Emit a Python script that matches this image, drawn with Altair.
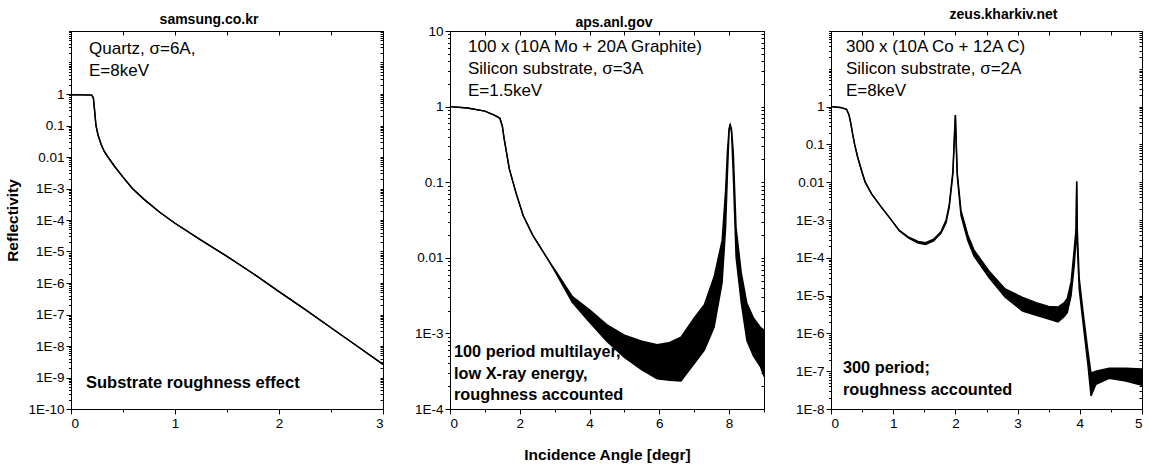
import altair as alt
import pandas as pd

FONT = "Liberation Sans"

# ---------------- data ----------------
# Panel 1: samsung.co.kr  (Quartz, sigma=6A, 8 keV)
P1_ANGLE = [0.0, 0.10, 0.20, 0.215, 0.225, 0.24, 0.26, 0.29, 0.32, 0.355, 0.42, 0.50,
            0.59, 0.70, 0.85, 1.00, 1.25, 1.50, 1.75, 2.00, 2.25, 2.50, 2.75, 3.00]
P1_REFL = [0.95, 0.94, 0.92, 0.75, 0.35, 0.1, 0.05, 0.025, 0.015, 0.01, 5e-3, 2.3e-3,
           1.0e-3, 4.6e-4, 1.8e-4, 7.9e-5, 2.3e-5, 7e-6, 2e-6, 5.3e-7, 1.45e-7, 3.8e-8, 1.0e-8, 2.6e-9]

# Panel 2: aps.anl.gov  (100 x (10A Mo + 20A Graphite), 1.5 keV) - envelope of the fringes
P2_ANGLE = [0.0, 0.5, 1.0, 1.3, 1.43, 1.5, 1.55, 1.6, 1.7, 1.9, 2.1, 2.37, 2.6, 2.86,
            3.0, 3.5, 4.0, 4.5, 5.0, 5.5, 5.94, 6.3, 6.62, 7.0, 7.29, 7.57, 7.8, 7.9, 7.95,
            8.0, 8.03, 8.07, 8.12, 8.2, 8.35, 8.51, 8.7, 8.9, 9.0]
P2_UPPER = [1.0, 0.96, 0.87, 0.76, 0.70, 0.55, 0.38, 0.28, 0.15, 0.07, 0.036, 0.02, 0.0135, 8.7e-3,
            7e-3, 3.1e-3, 2.05e-3, 1.3e-3, 9.5e-4, 7.9e-4, 7.1e-4, 7.6e-4, 8.9e-4, 1.6e-3, 2.4e-3,
            5.6e-3, 0.017, 0.08, 0.25, 0.52, 0.58, 0.5, 0.25, 0.025, 6.3e-3, 2.5e-3, 1.6e-3, 1.2e-3, 1.1e-3]
P2_LOWER = [1.0, 0.96, 0.87, 0.76, 0.70, 0.55, 0.38, 0.28, 0.15, 0.07, 0.036, 0.02, 0.0135, 8.7e-3,
            6.7e-3, 2.6e-3, 1.4e-3, 7.8e-4, 4.8e-4, 3.3e-4, 2.5e-4, 2.4e-4, 2.35e-4, 4e-4, 6e-4,
            1.2e-3, 4.7e-3, 0.025, 0.12, 0.48, 0.58, 0.45, 0.12, 0.01, 2.5e-3, 8e-4, 5e-4, 3.6e-4, 2.7e-4]

# Panel 3: zeus.kharkiv.net  (300 x (10A Co + 12A C), 8 keV) - envelope of the fringes
P3_ANGLE = [0.0, 0.15, 0.25, 0.29, 0.32, 0.35, 0.38, 0.43, 0.5, 0.55,
            0.65, 0.8, 0.95, 1.1, 1.25, 1.4, 1.52, 1.65, 1.77, 1.85,
            1.9, 1.96, 1.985, 2.0, 2.01, 2.03, 2.09, 2.2, 2.3, 2.54,
            2.8, 3.08, 3.3, 3.5, 3.65, 3.75, 3.8, 3.86, 3.91, 3.94,
            3.95, 3.96, 3.99, 4.05, 4.13, 4.18, 4.26, 4.47, 4.74, 5.0]
P3_UPPER = [1.0, 0.95, 0.85, 0.6, 0.35, 0.18, 0.1, 0.045, 0.018, 0.01,
            5e-3, 2.3e-3, 1.1e-3, 5.3e-4, 3.5e-4, 2.7e-4, 2.5e-4, 3.1e-4, 5e-4, 1.0e-3,
            2.5e-3, 0.02, 0.2, 0.6, 0.2, 0.018, 1.8e-3, 4e-4, 1.6e-4, 4.5e-5,
            1.5e-5, 9e-6, 6.5e-6, 5.2e-6, 5e-6, 6.5e-6, 8.5e-6, 2.3e-5, 1.7e-4, 6e-4,
            0.0105, 6e-4, 3e-5, 4e-6, 3.5e-7, 9e-8, 1.0e-7, 1.2e-7, 1.2e-7, 1.15e-7]
P3_LOWER = [1.0, 0.95, 0.85, 0.6, 0.35, 0.18, 0.1, 0.045, 0.018, 0.01,
            5e-3, 2.3e-3, 1.1e-3, 5.1e-4, 3.3e-4, 2.45e-4, 2.25e-4, 2.8e-4, 4.5e-4, 8.5e-4,
            2.1e-3, 0.016, 0.15, 0.6, 0.12, 0.014, 1.3e-3, 2.8e-4, 1.1e-4, 3e-5,
            9e-6, 3.9e-6, 3e-6, 2.4e-6, 2e-6, 2.8e-6, 3.6e-6, 1e-5, 6e-5, 3e-4,
            0.0105, 2e-4, 1.5e-5, 2e-6, 1.5e-7, 2.2e-8, 4.5e-8, 6.5e-8, 5.5e-8, 4.2e-8]

# tick values and labels
P1_Y_TICKS = [1e-10, 1e-9, 1e-8, 1e-7, 1e-6, 1e-5, 1e-4, 1e-3, 0.01, 0.1, 1.0]
P1_Y_LABELS = ["1E-10", "1E-9", "1E-8", "1E-7", "1E-6", "1E-5", "1E-4", "1E-3", "0.01", "0.1", "1"]
P1_X_TICKS = [0, 1, 2, 3]
P1_X_LABELS = ["0", "1", "2", "3"]

P2_Y_TICKS = [1e-4, 1e-3, 0.01, 0.1, 1.0, 10.0]
P2_Y_LABELS = ["1E-4", "1E-3", "0.01", "0.1", "1", "10"]
P2_X_TICKS = [0, 2, 4, 6, 8]
P2_X_LABELS = ["0", "2", "4", "6", "8"]

P3_Y_TICKS = [1e-8, 1e-7, 1e-6, 1e-5, 1e-4, 1e-3, 0.01, 0.1, 1.0]
P3_Y_LABELS = ["1E-8", "1E-7", "1E-6", "1E-5", "1E-4", "1E-3", "0.01", "0.1", "1"]
P3_X_TICKS = [0, 1, 2, 3, 4, 5]
P3_X_LABELS = ["0", "1", "2", "3", "4", "5"]

TITLES = ["samsung.co.kr", "aps.anl.gov", "zeus.kharkiv.net"]
Y_TITLE = "Reflectivity"
X_TITLE = "Incidence Angle [degr]"

P1_NOTE_TOP = ["Quartz, σ=6A,", "E=8keV"]
P1_NOTE_BOTTOM = ["Substrate roughness effect"]
P2_NOTE_TOP = ["100 x (10A Mo + 20A Graphite)", "Silicon substrate, σ=3A", "E=1.5keV"]
P2_NOTE_BOTTOM = ["100 period multilayer,", "low X-ray energy,", "roughness accounted"]
P3_NOTE_TOP = ["300 x (10A Co + 12A C)", "Silicon substrate, σ=2A", "E=8keV"]
P3_NOTE_BOTTOM = ["300 period;", "roughness accounted"]

PLOT_H = 378


def label_expr(vals, labels):
    parts = [f"abs(datum.value - {v!r}) <= {abs(v) * 1e-6 + 1e-12!r} ? '{l}'" for v, l in zip(vals, labels)]
    return " : ".join(parts) + " : ''"


def log_ticks(lo_exp, hi_exp):
    return [m * 10.0 ** e for e in range(lo_exp, hi_exp) for m in range(1, 10)] + [10.0 ** hi_exp]


def lin_ticks(lo, hi, step):
    n = int(round((hi - lo) / step))
    return [round(lo + i * step, 6) for i in range(n + 1)]


def text_block(lines, x0, y0, dy, size, weight):
    layers = []
    for i, t in enumerate(lines):
        layers.append(
            alt.Chart(alt.Data(values=[{}]))
            .mark_text(align="left", baseline="middle", font=FONT, fontSize=size,
                       fontWeight=weight, color="black")
            .encode(x=alt.value(x0), y=alt.value(y0 + i * dy), text=alt.value(t))
        )
    return layers


def panel(angle, upper, lower, xdom, x_step_minor, x_major, x_labels,
          y_exp, y_major, y_labels, width, title, tdx, toff,
          ytitle, xtitle, notes):
    df = pd.DataFrame({"angle": angle, "upper": upper, "lower": lower})
    xscale = alt.Scale(domain=xdom, nice=False, zero=False)
    yscale = alt.Scale(type="log", domain=[10.0 ** y_exp[0], 10.0 ** y_exp[1]], nice=False)
    x_all = lin_ticks(xdom[0], xdom[1], x_step_minor)
    y_all = log_ticks(y_exp[0], y_exp[1])

    bottom_kw = dict(orient="bottom", values=x_major, labelExpr=label_expr(x_major, x_labels),
                     ticks=True, tickSize=5, labelPadding=2)
    left_kw = dict(orient="left", values=y_major, labelExpr=label_expr(y_major, y_labels),
                   ticks=True, tickSize=5, labelPadding=2)
    if xtitle:
        bottom_kw.update(title=xtitle, titlePadding=18)
    else:
        bottom_kw.update(title=None)
    if ytitle:
        left_kw.update(title=ytitle, titlePadding=7)
    else:
        left_kw.update(title=None)

    # inward ticks on top and right edges, minor ticks on bottom and left
    top_axis = alt.Axis(orient="top", values=x_all, labels=False, domain=False, ticks=True,
                        tickSize=4, offset=-4, title=None)
    right_axis = alt.Axis(orient="right", values=y_all, labels=False, domain=False, ticks=True,
                          tickSize=3, offset=-3, title=None)
    bottom_minor = alt.Axis(orient="bottom", values=x_all, labels=False, domain=False, ticks=True,
                            tickSize=3, title=None)
    left_minor = alt.Axis(orient="left", values=y_all, labels=False, domain=False, ticks=True,
                          tickSize=2.5, title=None)

    base = alt.Chart(df)
    band = base.mark_area(color="black", clip=True).encode(
        x=alt.X("angle:Q", scale=xscale, axis=top_axis),
        y=alt.Y("upper:Q", scale=yscale, axis=right_axis),
        y2="lower:Q",
    )
    line_up = base.mark_line(color="black", strokeWidth=1.4, clip=True).encode(
        x=alt.X("angle:Q", scale=xscale, axis=alt.Axis(**bottom_kw)),
        y=alt.Y("upper:Q", scale=yscale, axis=alt.Axis(**left_kw)),
    )
    line_lo = base.mark_line(color="black", strokeWidth=1.4, clip=True).encode(
        x=alt.X("angle:Q", scale=xscale, axis=bottom_minor),
        y=alt.Y("lower:Q", scale=yscale, axis=left_minor),
    )
    texts = []
    for lines, x0, y0, dy, size, weight in notes:
        texts += text_block(lines, x0, y0, dy, size, weight)

    return (
        alt.layer(band, line_up, line_lo, *texts)
        .resolve_axis(x="independent", y="independent")
        .properties(
            width=width, height=PLOT_H,
            title=alt.TitleParams(TITLES[title], dx=tdx, offset=toff, frame="group",
                                  anchor="middle", font=FONT, fontSize=14,
                                  fontWeight="bold", color="black"),
        )
    )


p1 = panel(P1_ANGLE, P1_REFL, P1_REFL, [0, 3], 0.5, P1_X_TICKS, P1_X_LABELS,
           (-10, 2), P1_Y_TICKS, P1_Y_LABELS, 312, 0, -18, 4, Y_TITLE, None,
           [(P1_NOTE_TOP, 18, 18, 22, 17, "normal"),
            (P1_NOTE_BOTTOM, 15, 352, 21.5, 16.5, "bold")])
p2 = panel(P2_ANGLE, P2_UPPER, P2_LOWER, [0, 9], 1.0, P2_X_TICKS, P2_X_LABELS,
           (-4, 1), P2_Y_TICKS, P2_Y_LABELS, 314, 1, 7, -6, None, X_TITLE,
           [(P2_NOTE_TOP, 18, 16, 22, 17, "normal"),
            (P2_NOTE_BOTTOM, 4, 321, 21.5, 16.3, "bold")])
p3 = panel(P3_ANGLE, P3_UPPER, P3_LOWER, [0, 5], 0.5, P3_X_TICKS, P3_X_LABELS,
           (-8, 2), P3_Y_TICKS, P3_Y_LABELS, 311, 2, 17, 9, None, None,
           [(P3_NOTE_TOP, 15, 16, 22, 17, "normal"),
            (P3_NOTE_BOTTOM, 12, 337, 21.5, 16.3, "bold")])

chart = (
    alt.hconcat(p1, p2, p3, spacing=67, bounds="flush")
    .properties(padding={"left": 5, "top": 7, "right": 2, "bottom": 2}, background="white")
    .configure_view(stroke="black", strokeWidth=1)
    .configure_axis(grid=False, domainColor="black", domainWidth=1, tickColor="black",
                    tickWidth=1, labelFont=FONT, labelFontSize=13.5, labelColor="black",
                    titleFont=FONT, titleFontSize=15.5, titleFontWeight="bold",
                    titleColor="black")
)

chart.save("out.html", embed_options={"renderer": "svg", "actions": False})
